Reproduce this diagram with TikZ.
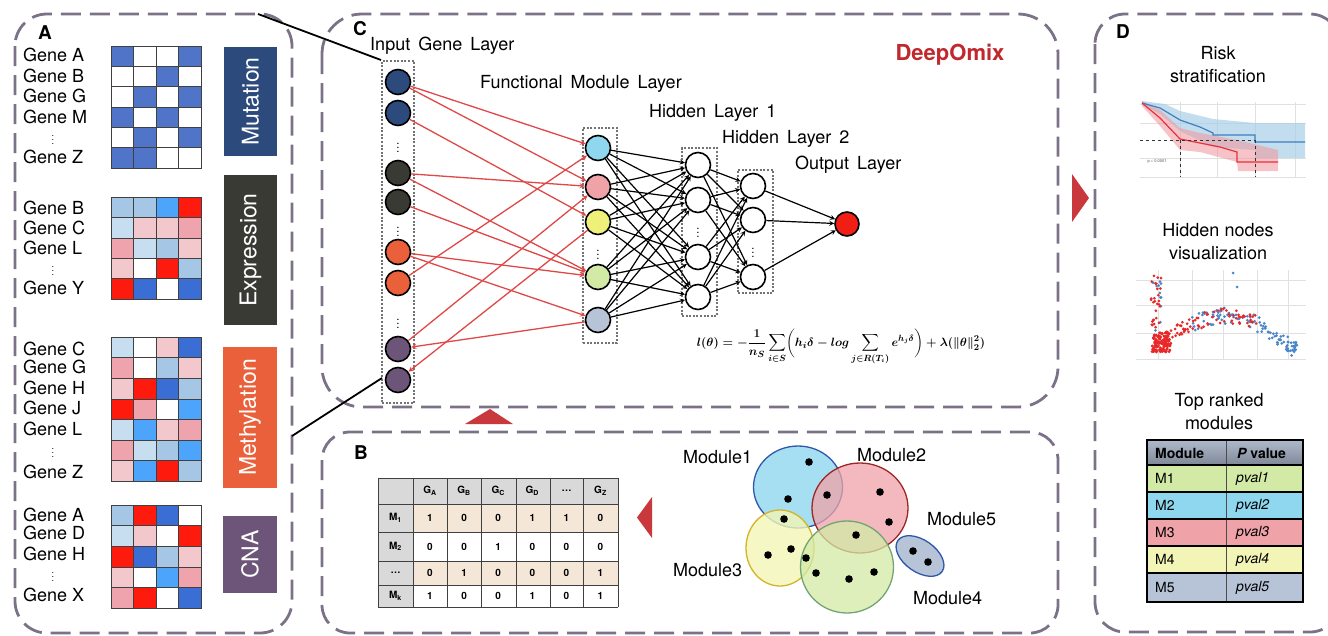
\documentclass[tikz,border=0pt]{standalone}
\usepackage{fontspec}
\setmainfont{TeX Gyre Heros}
\usepackage{amsmath}
\usetikzlibrary{arrows}

\definecolor{panelc}{HTML}{7B7287}
\definecolor{navyA}{HTML}{2D4A7C}
\definecolor{grayA}{HTML}{3A3A35}
\definecolor{orangeA}{HTML}{E9603B}
\definecolor{purpleA}{HTML}{6D5479}
\definecolor{hm}{HTML}{4F74C8}
\definecolor{lb}{HTML}{A5C6E4}
\definecolor{vb}{HTML}{C7DDF0}
\definecolor{bb}{HTML}{4DA5FB}
\definecolor{rd}{HTML}{FF1A0E}
\definecolor{db}{HTML}{3A6ED5}
\definecolor{pk}{HTML}{EFA4AD}
\definecolor{lp}{HTML}{F2C8CC}
\colorlet{wh}{white}
\definecolor{edgered}{HTML}{E04848}
\definecolor{mcyan}{HTML}{8ED7EE}
\definecolor{mpink}{HTML}{EFA2A8}
\definecolor{myellow}{HTML}{EEF07A}
\definecolor{mlyellow}{HTML}{F2F5B6}
\definecolor{mgreen}{HTML}{D3EAA6}
\definecolor{mgray}{HTML}{B7C3D7}
\definecolor{outred}{HTML}{F01E14}
\definecolor{arrred}{HTML}{C8383C}
\definecolor{deepred}{HTML}{C0282D}
\definecolor{tgray}{HTML}{D9D9D9}
\definecolor{tbeige}{HTML}{F5E7D8}
\definecolor{kmblue}{HTML}{3F7FBF}
\definecolor{kmband}{HTML}{A8CFE6}
\definecolor{kmred}{HTML}{E8303A}
\definecolor{kmpink}{HTML}{EE9BA3}
\definecolor{scred}{HTML}{E82828}
\definecolor{scblue}{HTML}{4A86C8}

\newcommand{\lossformula}{$\displaystyle l(\theta)=-\frac{1}{n_S}\sum_{i\in S}\biggl(h_i\delta-log\sum_{j\in R(T_i)}e^{h_j\delta}\biggr)+\lambda(\Vert\theta\Vert_2^2)$}

\begin{document}
\begin{tikzpicture}[x=1pt,y=-1pt,
  panel/.style={draw=panelc, line width=2.8pt, dash pattern=on 20pt off 9pt},
  gene/.style={anchor=west, inner sep=0, font=\fontsize{18}{18}\selectfont},
  vd/.style={inner sep=0, font=\fontsize{9}{9}\selectfont},
  omic/.style={rotate=90, text=white, inner sep=0, font=\fontsize{23}{23}\selectfont},
  cell/.style={draw=black!75, line width=0.6pt},
  letter/.style={inner sep=0, font=\fontsize{19}{19}\selectfont\bfseries},
  layer/.style={anchor=west, inner sep=0, font=\fontsize{18}{18}\selectfont, execute at begin node={\spaceskip=8pt plus 1pt\relax}},
  lbl/.style={inner sep=0, font=\fontsize{18}{18}\selectfont},
  formula/.style={inner sep=0, font=\fontsize{13}{15}\selectfont\boldmath},
  neuron/.style={circle, draw=black, line width=1.6pt, minimum size=25pt, inner sep=0},
  dotbox/.style={draw=black!55, line width=2pt, dash pattern=on 2pt off 1.6pt, inner sep=0},
  ndots/.style={inner sep=0, font=\fontsize{8}{8}\selectfont\bfseries},
  redge/.style={draw=edgered, line width=1.3pt, ->, >=stealth},
  bedge/.style={draw=black, line width=1.2pt, ->, >=stealth},
  tcell/.style={inner sep=0, font=\fontsize{10}{10}\selectfont\bfseries},
  tline/.style={draw=black!75, line width=0.8pt},
  dtab/.style={anchor=west, inner sep=0, font=\fontsize{14}{14}\selectfont},
  vdot/.style={fill=black}
]
\useasboundingbox (0,0) rectangle (1328,635);

% panels
\draw[panel, rounded corners=32pt] (15,14) rectangle (292,633);
\draw[panel, rounded corners=40pt] (322,14) rectangle (1058,407);
\draw[panel, rounded corners=28pt] (322,432) rectangle (1058,633);
\draw[panel, rounded corners=30pt] (1095,14) rectangle (1340,632);

\node[letter] (labA) at (45,33) {A};
\node[letter] (labC) at (360,29) {C};
\node[letter] (labB) at (361,453) {B};
\node[letter] (labD) at (1123,32) {D};

% ---------- A: omics heatmaps
\foreach \row [count=\r] in {{hm,wh,wh,hm},{wh,wh,hm,wh},{wh,hm,wh,hm},{hm,wh,hm,wh},{wh,hm,wh,hm},{hm,hm,wh,wh}} {
  \foreach \c [count=\k] in \row {
    \filldraw[cell, fill=\c] (88.5+22.5*\k,25.7+20.3*\r) rectangle ++(22.5,20.3);
  }
}
\foreach \row [count=\r] in {{lb,lb,bb,rd},{vb,lp,lp,pk},{pk,vb,lb,lp},{lp,wh,rd,lb},{rd,db,wh,db}} {
  \foreach \c [count=\k] in \row {
    \filldraw[cell, fill=\c] (88.5+22.5*\k,176.6+20.4*\r) rectangle ++(22.5,20.4);
  }
}
\foreach \row [count=\r] in {{vb,wh,lp,db},{pk,wh,lb,lp},{lp,rd,db,lb},{rd,pk,wh,bb},{vb,bb,lp,pk},{pk,vb,lb,bb},{lp,bb,rd,lb}} {
  \foreach \c [count=\k] in \row {
    \filldraw[cell, fill=\c] (88.5+22.5*\k,316.4+20.6*\r) rectangle ++(22.5,20.6);
  }
}
\foreach \row [count=\r] in {{lb,rd,db,wh},{vb,lp,wh,rd},{rd,db,lb,lp},{lp,wh,bb,pk},{pk,rd,wh,db}} {
  \foreach \c [count=\k] in \row {
    \filldraw[cell, fill=\c] (88.5+22.5*\k,484.4+20.6*\r) rectangle ++(22.5,20.6);
  }
}

\foreach \g/\y [count=\i] in {A/55,B/76,G/96,M/117,Z/157} {
  \node[gene] (mut\i) at (23,\y) {Gene \g};
}
\node[vd] (mutd) at (53,137) {$\vdots$};
\foreach \g/\y [count=\i] in {B/208,C/228,L/248,Y/288} {
  \node[gene] (exp\i) at (23,\y) {Gene \g};
}
\node[vd] (expd) at (53,268) {$\vdots$};
\foreach \g/\y [count=\i] in {C/349,G/367,H/388,J/408,L/429,Z/472} {
  \node[gene] (met\i) at (23,\y) {Gene \g};
}
\node[vd] (metd) at (53,450) {$\vdots$};
\foreach \g/\y [count=\i] in {A/515,D/533,H/554,X/595} {
  \node[gene] (cna\i) at (23,\y) {Gene \g};
}
\node[vd] (cnad) at (53,574) {$\vdots$};

\node[omic, fill=navyA, minimum width=109pt, minimum height=53pt] (mutbox) at (250.5,101.5) {Mutation};
\node[omic, fill=grayA, minimum width=150pt, minimum height=53pt] (expbox) at (250.5,250) {Expression};
\node[omic, fill=orangeA, minimum width=141pt, minimum height=54pt] (metbox) at (250,417.5) {Methylation};
\node[omic, fill=purpleA, minimum width=77pt, minimum height=54pt] (cnabox) at (250,554.5) {CNA};

% ---------- C: network
\node[layer] (tin) at (370,46) {Input Gene Layer};
\node[layer] (tmod) at (480,84) {Functional Module Layer};
\node[layer] (th1) at (649,113) {Hidden Layer 1};
\node[layer] (th2) at (722,139) {Hidden Layer 2};
\node[layer] (tout) at (795,165) {Output Layer};
\node[inner sep=0, text=deepred, font=\fontsize{22}{22}\selectfont\bfseries] (title) at (950,55) {DeepOmix};
\node[formula] (loss) at (841,347) {\lossformula};

\node[dotbox, minimum width=32pt, minimum height=342pt] (inbox) at (398,232) {};
\node[dotbox, minimum width=34pt, minimum height=215pt] (modbox) at (600,235.5) {};
\node[dotbox, minimum width=35pt, minimum height=168pt] (h1box) at (699.5,232) {};
\node[dotbox, minimum width=35pt, minimum height=123pt] (h2box) at (755.5,231.5) {};

\foreach \n/\y/\c in {1/82/navyA,2/113/navyA,3/173/grayA,4/202/grayA,5/252/orangeA,6/283/orangeA,7/349/purpleA,8/380/purpleA} {
  \node[neuron, fill=\c] (in\n) at (398,\y) {};
}
\node[ndots] (ind1) at (398,145) {$\vdots$};
\node[ndots] (ind2) at (398,229) {$\vdots$};
\node[ndots] (ind3) at (398,321) {$\vdots$};

\foreach \n/\y/\c in {1/148/mcyan,2/187/mpink,3/222/myellow,4/277/mgreen,5/320/mgray} {
  \node[neuron, fill=\c] (mod\n) at (598,\y) {};
}
\node[ndots] (modd) at (598,252) {$\vdots$};

\foreach \n/\y in {a/165,b/200,c/257,d/297} {
  \node[neuron, fill=white] (h1\n) at (698,\y) {};
}
\node[ndots] (h1dots) at (698,230) {$\vdots$};
\foreach \n/\y in {a/186,b/220,c/277} {
  \node[neuron, fill=white] (h2\n) at (753,\y) {};
}
\node[ndots] (h2dots) at (753,250) {$\vdots$};
\node[neuron, fill=outred, minimum size=24pt] (outn) at (847,224) {};

\foreach \s/\t in {in1/mod1,in1/mod2,in2/mod3,in3/mod2,in3/mod4,in4/mod4,in5/mod4,in5/mod5,in6/mod1,in7/mod2} {
  \draw[redge] (\s) -- (\t);
}
\draw[redge] (mod5) -- (in7);
\draw[redge] (mod3) -- (in8);

\foreach \s in {mod1,mod2,mod3,mod4,mod5} {
  \foreach \t in {h1a,h1b,h1c,h1d} {
    \draw[bedge] (\s) -- (\t);
  }
}
\foreach \s in {h1a,h1b,h1c,h1d} {
  \foreach \t in {h2a,h2b,h2c} {
    \draw[bedge] (\s) -- (\t);
  }
}
\foreach \s in {h2a,h2b,h2c} {
  \draw[bedge] (\s) -- (outn);
}

% zoom lines from A to input layer
\coordinate (zA) at (258,14);
\coordinate (zB) at (292,436);
\coordinate (zC) at (382,378);
\draw[line width=1.8pt] (zA) -- (inbox.north west);
\draw[line width=1.8pt] (zB) -- (zC);

% ---------- flow triangles
\fill[arrred] (465,424) -- (513,424) -- (490,409) -- cycle;
\fill[arrred] (652,497) -- (652,538) -- (637,517.5) -- cycle;
\fill[arrred] (1072,174) -- (1072,222) -- (1089,198) -- cycle;

% ---------- B: module matrix
\fill[tgray] (378,478) rectangle (618,504);
\fill[tgray] (378,504) rectangle (413,607);
\fill[tbeige] (413,504) rectangle (618,532);
\fill[tbeige] (413,561) rectangle (618,585);
\foreach \x in {378,413,447,481,516,550,583,618} {
  \draw[tline] (\x,478) -- (\x,607);
}
\foreach \y in {478,504,532,561,585,607} {
  \draw[tline] (378,\y) -- (618,\y);
}
\foreach \g [count=\k] in {A,B,C,D} {
  \node[tcell] (hg\k) at (430+34.1*\k-34.1,491) {G\textsubscript{\g}};
}
\node[tcell] (hg5) at (566.5,491) {\ldots};
\node[tcell] (hg6) at (600.5,491) {G\textsubscript{Z}};
\node[tcell] (rl1) at (395.5,518) {M\textsubscript{1}};
\node[tcell] (rl2) at (395.5,546.5) {M\textsubscript{2}};
\node[tcell] (rl3) at (395.5,573) {\ldots};
\node[tcell] (rl4) at (395.5,596) {M\textsubscript{k}};
\foreach \v [count=\k] in {1,0,0,1,1,0} {
  \node[tcell] (ra\k) at (430+34.1*\k-34.1,518) {\v};
}
\foreach \v [count=\k] in {0,0,1,0,0,0} {
  \node[tcell] (rb\k) at (430+34.1*\k-34.1,546.5) {\v};
}
\foreach \v [count=\k] in {0,1,0,0,0,1} {
  \node[tcell] (rc\k) at (430+34.1*\k-34.1,573) {\v};
}
\foreach \v [count=\k] in {1,0,0,1,0,1} {
  \node[tcell] (rd\k) at (430+34.1*\k-34.1,596) {\v};
}

% ---------- B: modules
\filldraw[fill=mcyan, fill opacity=0.8, draw=db!80!black, line width=1.3pt] (798,487) ellipse [x radius=44.5, y radius=41];
\filldraw[fill=mlyellow, fill opacity=0.8, draw=black!25!yellow!70!orange, line width=1.3pt] (780,548) ellipse [x radius=34, y radius=38];
\filldraw[fill=mpink, fill opacity=0.75, draw=red!55!black!85, line width=1.3pt] (860,508) ellipse [x radius=48, y radius=45];
\filldraw[fill=mgreen, fill opacity=0.75, draw=green!35!black!55, line width=1.3pt] (847,567) ellipse [x radius=46.5, y radius=46];
\filldraw[fill=mgray, draw=db!80!black, line width=1.3pt, rotate around={-35:(920,556)}] (920,556) ellipse [x radius=27, y radius=16];
\foreach \p in {(809,462),(788,499),(827,495),(880,492),(889,522),(784,519),(856,535),(768,555),(791,549),(806,558),(816,573),(849,579),(874,572),(913,551),(928,562)} {
  \fill[vdot] \p circle (3.8);
}
\node[lbl, anchor=west] (m1) at (683,457) {Module1};
\node[lbl, anchor=west] (m2) at (857,455) {Module2};
\node[lbl, anchor=west] (m3) at (673,570) {Module3};
\node[lbl, anchor=west] (m4) at (913,598) {Module4};
\node[lbl, anchor=west] (m5) at (927,519) {Module5};

% ---------- D: outputs
\node[lbl, align=center, font=\fontsize{18}{23}\selectfont] (trisk) at (1218,65) {Risk\\stratification};
\node[lbl, align=center, font=\fontsize{18}{23}\selectfont] (thid) at (1218,242) {Hidden nodes\\visualization};
\node[lbl, align=center, font=\fontsize{18}{23}\selectfont] (ttop) at (1219,412) {Top ranked\\modules};

% survival curves
\foreach \x in {1180,1217,1255,1295} {
  \draw[black!12, line width=0.4pt] (\x,102) -- (\x,178);
}
\foreach \y in {104,123,158,177} {
  \draw[black!12, line width=0.4pt] (1140,\y) -- (1306,\y);
}
\fill[kmband, opacity=0.7] (1142,101) -- (1165,104) -- (1180,111) -- (1213,119) -- (1255,123) -- (1305,123) -- (1305,158) -- (1255,158) -- (1255,150) -- (1213,147) -- (1180,131) -- (1160,114) -- (1142,105) -- cycle;
\fill[kmpink, opacity=0.6] (1142,101) -- (1160,110) -- (1180,128) -- (1200,133) -- (1237,140) -- (1278,150) -- (1278,171) -- (1238,171) -- (1237,162) -- (1200,152) -- (1180,150) -- (1160,126) -- (1142,106) -- cycle;
\draw[kmblue, line width=1.2pt] (1142,103) -- (1160,108) -- (1180,120) -- (1200,127) -- (1213,133) -- (1213,135) -- (1255,135) -- (1255,142) -- (1305,142);
\draw[kmred, line width=1.2pt] (1142,103) -- (1160,118) -- (1180,139) -- (1200,143) -- (1220,147) -- (1237,152) -- (1237,162) -- (1278,162);
\draw[black!80, dashed, line width=0.6pt] (1140,140) -- (1255,140);
\draw[black!80, dashed, line width=0.6pt] (1180,140) -- (1180,177);
\draw[black!80, dashed, line width=0.6pt] (1255,140) -- (1255,177);
\node[inner sep=0, font=\fontsize{4}{4}\selectfont, text=black!70] (pv) at (1157,162) {p < 0.0001};

% hidden nodes scatter
\foreach \x in {1158,1192,1223,1257,1288} {
  \draw[black!12, line width=0.4pt] (\x,270) -- (\x,360);
}
\foreach \y in {280,305,333,359} {
  \draw[black!12, line width=0.4pt] (1136,\y) -- (1306,\y);
}
\pgfmathsetseed{17}
\foreach \i in {1,...,12} {
  \pgfmathsetmacro\scx{1157+5*rand}
  \pgfmathsetmacro\scy{278+55*rnd}
  \fill[scblue] (\scx,\scy) circle (1.5);
}
\foreach \i in {1,...,90} {
  \pgfmathsetmacro\sct{0.2+0.8*rnd}
  \pgfmathsetmacro\scx{1165+132*\sct}
  \pgfmathsetmacro\scy{340-30*sin(180*\sct)+12*\sct+8*rand}
  \fill[scblue] (\scx,\scy) circle (1.5);
}
\foreach \i in {1,...,22} {
  \pgfmathsetmacro\scx{1291+5*rand}
  \pgfmathsetmacro\scy{346+5*rand}
  \fill[scblue] (\scx,\scy) circle (1.5);
}
\fill[scblue] (1233,273) circle (1.5);
\fill[scblue] (1237,287) circle (1.5);
\foreach \i in {1,...,110} {
  \pgfmathsetmacro\scx{1161+9*rand}
  \pgfmathsetmacro\scy{342+10*rand}
  \fill[scred] (\scx,\scy) circle (1.6);
}
\foreach \i in {1,...,28} {
  \pgfmathsetmacro\scx{1156+5*rand}
  \pgfmathsetmacro\scy{273+60*rnd}
  \fill[scred] (\scx,\scy) circle (1.5);
}
\foreach \i in {1,...,75} {
  \pgfmathsetmacro\sct{0.7*rnd}
  \pgfmathsetmacro\scx{1165+132*\sct}
  \pgfmathsetmacro\scy{340-30*sin(180*\sct)+12*\sct+8*rand}
  \fill[scred] (\scx,\scy) circle (1.5);
}

% top ranked modules table
\shade[top color=black!5!mgray, bottom color=mgray!70!black] (1147,440) rectangle (1303,465);
\fill[mgreen] (1147,465) rectangle (1303,492);
\fill[mcyan] (1147,492) rectangle (1303,519);
\fill[mpink] (1147,519) rectangle (1303,546);
\fill[mlyellow] (1147,546) rectangle (1303,573);
\fill[mgray] (1147,573) rectangle (1303,602);
\draw[black!70, line width=0.8pt] (1226,440) -- (1226,602);
\foreach \y in {465,492,519,546,573} {
  \draw[black, line width=1.8pt] (1147,\y) -- (1303,\y);
}
\draw[black, line width=2pt] (1147,440) rectangle (1303,602);
\node[dtab] (hmod) at (1155,453) {\bfseries Module};
\node[dtab] (hpv) at (1237,453) {\bfseries\itshape P\upshape\ value};
\foreach \m/\y in {1/478.5,2/505.5,3/532.5,4/559.5,5/587.5} {
  \node[dtab] (tm\m) at (1155,\y) {M\m};
  \node[dtab] (tp\m) at (1236,\y) {\itshape pval\m};
}
\end{tikzpicture}
\end{document}
